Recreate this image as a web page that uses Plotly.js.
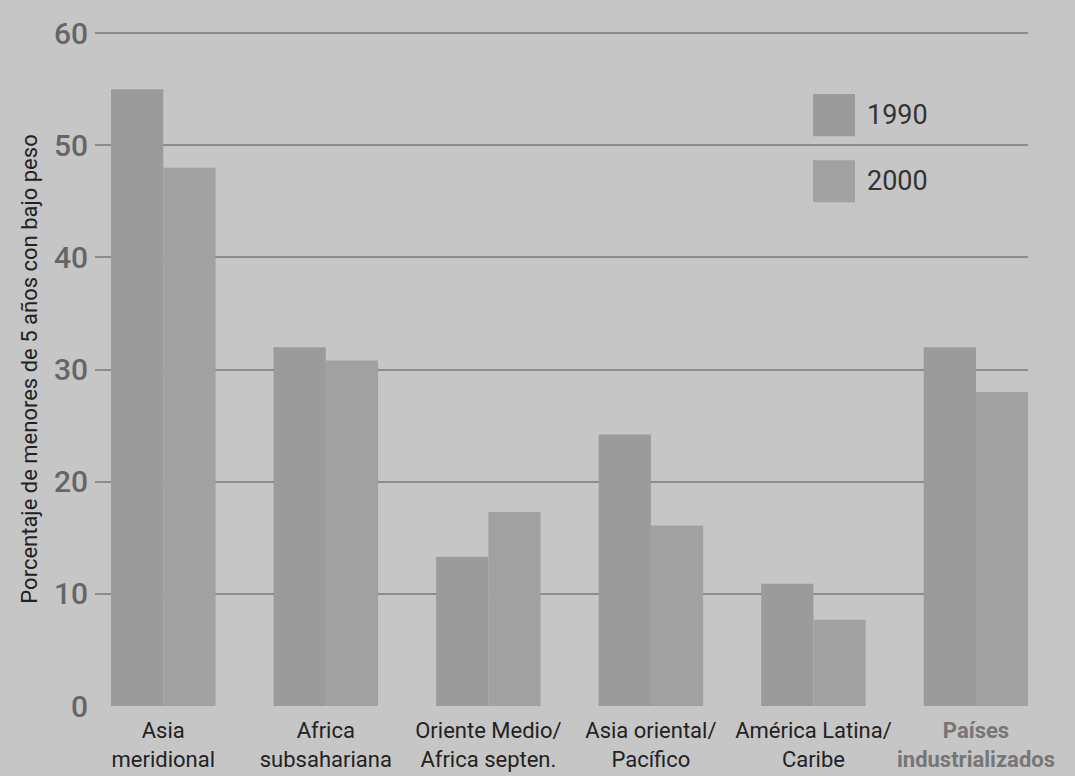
<!DOCTYPE html>
<html>
<head>
<meta charset="utf-8">
<script src="https://cdn.plot.ly/plotly-3.0.1.min.js"></script>
<style>
  html, body { margin: 0; padding: 0; background: #c6c6c6; }
  #chart { width: 1075px; height: 776px; }
</style>
</head>
<body>
<div id="chart"></div>
<script>
// Regions
const categories = ['Asia meridional', 'Africa subsahariana', 'Oriente Medio/Africa septen.',
                    'Asia oriental/Pacífico', 'América Latina/Caribe', 'Países industrializados'];
const tickLabels = ['Asia<br>meridional', 'Africa<br>subsahariana', 'Oriente Medio/<br>Africa septen.',
                    'Asia oriental/<br>Pacífico', 'América Latina/<br>Caribe',
                    '<span style="color:#767676"><b>Países</b><br><b>industrializados</b></span>'];

// Underweight children under 5 (%)
const values1990 = [55, 32, 13.3, 24.2, 10.9, 32];
const values2000 = [48, 30.8, 17.3, 16.1, 7.7, 28];

const seriesNames = ['1990', '2000'];
const seriesColors = ['#9b9b9b', '#a1a1a1'];

const yTicks = [0, 10, 20, 30, 40, 50, 60];

const bg = '#c6c6c6';

const traces = [
  { type: 'bar', name: seriesNames[0], x: categories, y: values1990,
    marker: { color: seriesColors[0], line: { width: 0 } }, hoverinfo: 'skip' },
  { type: 'bar', name: seriesNames[1], x: categories, y: values2000,
    marker: { color: seriesColors[1], line: { width: 0 } }, hoverinfo: 'skip' }
];

// Custom legend: large swatches with labels at the upper right
const legendShapes = [];
const legendNotes = [];
const swatchX = [0.7696, 0.8146];
const swatchY = [[0.8455, 0.9079], [0.7474, 0.8098]];
seriesNames.forEach((name, i) => {
  legendShapes.push({
    type: 'rect', xref: 'paper', yref: 'paper',
    x0: swatchX[0], x1: swatchX[1], y0: swatchY[i][0], y1: swatchY[i][1],
    fillcolor: seriesColors[i], line: { width: 0 }
  });
  legendNotes.push({
    xref: 'paper', yref: 'paper', x: 0.8253, y: (swatchY[i][0] + swatchY[i][1]) / 2,
    xanchor: 'left', yanchor: 'middle', showarrow: false, text: name,
    font: { family: 'Roboto, sans-serif', size: 27, color: '#333333' }
  });
});

const layout = {
  width: 1075, height: 776,
  margin: { l: 95, r: 47, t: 32, b: 70 },
  paper_bgcolor: bg, plot_bgcolor: bg,
  showlegend: false,
  barmode: 'group', bargap: 0.357, bargroupgap: 0,
  xaxis: {
    type: 'category',
    range: [-0.42, 5.32],
    tickvals: categories, ticktext: tickLabels,
    showgrid: false, zeroline: false, showline: false, ticks: '',
    tickangle: 0,
    ticklabelstandoff: 9,
    tickfont: { family: 'Roboto, sans-serif', size: 22, color: '#222222' }
  },
  yaxis: {
    range: [0, 60.1],
    tickvals: yTicks,
    showgrid: true, gridcolor: '#8c8c8c', gridwidth: 2,
    zeroline: true, zerolinecolor: bg, zerolinewidth: 2,
    showline: false, ticks: '',
    ticklabelstandoff: 6,
    tickfont: { family: 'Roboto, sans-serif', size: 30, color: '#666666', weight: 500 },
    title: {
      text: 'Porcentaje de menores de 5 años con bajo peso',
      standoff: 10,
      font: { family: 'Roboto, sans-serif', size: 22, color: '#222222' }
    }
  },
  shapes: legendShapes,
  annotations: legendNotes
};

Plotly.newPlot('chart', traces, layout, { displayModeBar: false, staticPlot: true });
</script>
</body>
</html>
